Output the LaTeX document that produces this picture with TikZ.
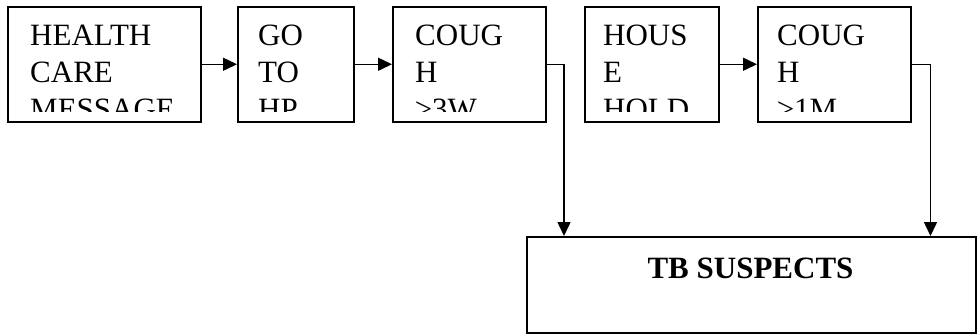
\documentclass[tikz,border=0pt]{standalone}
\usepackage{fontspec}
\setmainfont{Liberation Serif}
\usetikzlibrary{arrows.meta}
\begin{document}
\begin{tikzpicture}[x=1pt,y=-1pt,
 box/.style={draw, line width=1.5pt, inner sep=0pt, anchor=north west, minimum height=115pt},
 lbl/.style={anchor=base west, inner sep=0pt, font=\fontsize{31}{36.7}\selectfont, align=left},
 arr/.style={line width=1.5pt, -{Triangle[length=14pt,width=13pt]}}]
\useasboundingbox (0,0) rectangle (977,333);
% top boxes
\node[box, minimum width=193pt] (b1) at (7,6) {};
\node[box, minimum width=116pt] (b2) at (237,6) {};
\node[box, minimum width=153pt] (b3) at (392,6) {};
\node[box, minimum width=134pt] (b4) at (584,6) {};
\node[box, minimum width=153pt] (b5) at (757,6) {};
% clipped texts (last line baseline)
\begin{scope}
\clip (7,6) rectangle (200,111);
\node[lbl] (t1) at (30,119.1) {HEALTH\\CARE\\MESSAGE};
\end{scope}
\begin{scope}
\clip (237,6) rectangle (353,111);
\node[lbl] (t2) at (258,119.1) {GO\\TO\\HP};
\end{scope}
\begin{scope}
\clip (392,6) rectangle (545,111);
\node[lbl] (t3) at (415,119.1) {COUG\\H\\≥3W};
\end{scope}
\begin{scope}
\clip (584,6) rectangle (718,111);
\node[lbl] (t4) at (603,119.1) {HOUS\\E\\HOLD};
\end{scope}
\begin{scope}
\clip (757,6) rectangle (910,111);
\node[lbl] (t5) at (777,119.1) {COUG\\H\\≥1M};
\end{scope}
% bottom box
\node[box, minimum width=449pt, minimum height=96pt] (big) at (526,236) {};
\node[anchor=base, inner sep=0pt, font=\fontsize{31}{36.7}\selectfont\bfseries] (tb) at (750.5,278) {TB SUSPECTS};
% connectors
\draw[arr] (b1.east) -- (b2.west);
\draw[arr] (b2.east) -- (b3.west);
\draw[arr] (b4.east) -- (b5.west);
\draw[arr] (b3.east) -| ([xshift=38pt]big.north west);
\draw[arr] (b5.east) -| ([xshift=-46pt]big.north east);
\end{tikzpicture}
\end{document}
